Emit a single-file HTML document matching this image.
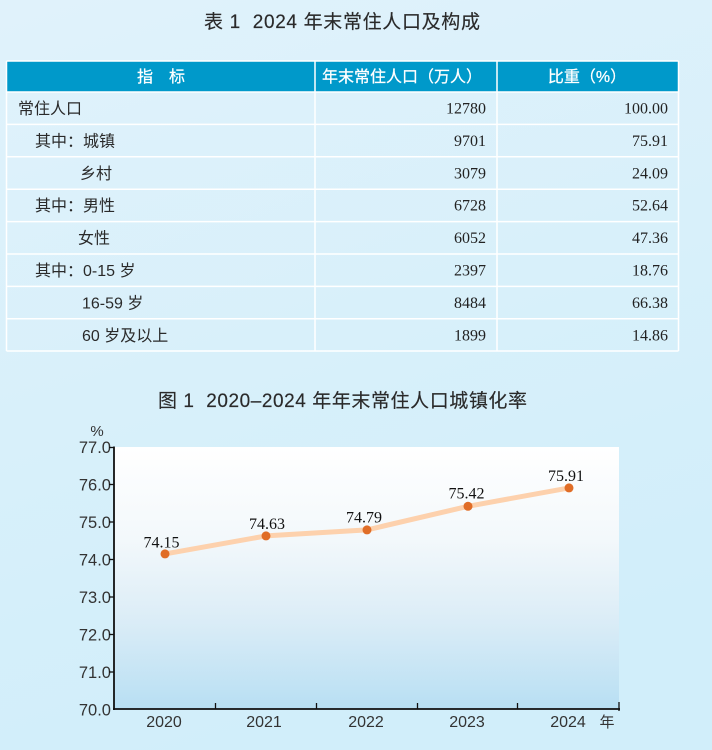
<!DOCTYPE html>
<html><head><meta charset="utf-8">
<style>
html,body{margin:0;padding:0;width:712px;height:750px;overflow:hidden;}
svg{display:block;}
.cjk{font-family:"Liberation Sans","Noto Sans CJK SC",sans-serif;}
.num{font-family:"Liberation Serif","Noto Serif CJK SC",serif;}
</style></head>
<body>
<svg width="712" height="750" viewBox="0 0 712 750" xmlns="http://www.w3.org/2000/svg">
<defs>
<linearGradient id="bg" x1="0" y1="0" x2="0.3" y2="1">
<stop offset="0" stop-color="#e0f2fb"/>
<stop offset="1" stop-color="#d1eefa"/>
</linearGradient>
<linearGradient id="plot" x1="0" y1="0" x2="0" y2="1">
<stop offset="0" stop-color="#ffffff"/>
<stop offset="0.35" stop-color="#f3f8fb"/>
<stop offset="0.65" stop-color="#dcedf7"/>
<stop offset="1" stop-color="#b8dff3"/>
</linearGradient>
</defs>
<rect x="0" y="0" width="712" height="750" fill="url(#bg)"/>

<!-- Table title -->
<text x="204" y="28" textLength="276" lengthAdjust="spacing" class="cjk" font-size="19" fill="#2a2a2a" stroke="#2a2a2a" stroke-width="0.15" xml:space="preserve">表 1  2024 年末常住人口及构成</text>

<!-- Table header -->
<rect x="6.5" y="61" width="672" height="31" fill="#0099ca"/>
<g class="cjk" font-size="16" fill="#ffffff" text-anchor="middle" stroke="#ffffff" stroke-width="0.25">
<text x="161" y="82">指　标</text>
<text x="402" y="82">年末常住人口（万人）</text>
<text x="587" y="82">比重（%）</text>
</g>

<!-- grid lines -->
<g stroke="#ffffff" stroke-width="1.5" fill="none">
<line x1="6.5" y1="61" x2="678.5" y2="61"/>
<line x1="6.5" y1="92" x2="678.5" y2="92"/>
<line x1="6.5" y1="124.4" x2="678.5" y2="124.4"/>
<line x1="6.5" y1="156.8" x2="678.5" y2="156.8"/>
<line x1="6.5" y1="189.2" x2="678.5" y2="189.2"/>
<line x1="6.5" y1="221.6" x2="678.5" y2="221.6"/>
<line x1="6.5" y1="254" x2="678.5" y2="254"/>
<line x1="6.5" y1="286.4" x2="678.5" y2="286.4"/>
<line x1="6.5" y1="318.8" x2="678.5" y2="318.8"/>
<line x1="6.5" y1="351" x2="678.5" y2="351"/>
<line x1="6.5" y1="61" x2="6.5" y2="351"/>
<line x1="315" y1="61" x2="315" y2="351"/>
<line x1="497" y1="61" x2="497" y2="351"/>
<line x1="678.5" y1="61" x2="678.5" y2="351"/>
</g>

<!-- Table body labels -->
<g class="cjk" font-size="16" fill="#2a2a2a">
<text x="18" y="114">常住人口</text>
<text x="35" y="146.4">其中：城镇</text>
<text x="80" y="178.8">乡村</text>
<text x="35" y="211.2">其中：男性</text>
<text x="78" y="243.6">女性</text>
<text x="35" y="276">其中：0-15 岁</text>
<text x="82" y="308.4">16-59 岁</text>
<text x="82" y="340.8">60 岁及以上</text>
</g>
<g class="num" font-size="16" fill="#222" text-anchor="end">
<text x="486" y="113.5">12780</text>
<text x="486" y="145.9">9701</text>
<text x="486" y="178.3">3079</text>
<text x="486" y="210.7">6728</text>
<text x="486" y="243.1">6052</text>
<text x="486" y="275.5">2397</text>
<text x="486" y="307.9">8484</text>
<text x="486" y="340.3">1899</text>
<text x="668" y="113.5">100.00</text>
<text x="668" y="145.9">75.91</text>
<text x="668" y="178.3">24.09</text>
<text x="668" y="210.7">52.64</text>
<text x="668" y="243.1">47.36</text>
<text x="668" y="275.5">18.76</text>
<text x="668" y="307.9">66.38</text>
<text x="668" y="340.3">14.86</text>
</g>

<!-- Chart title -->
<text x="158" y="407" textLength="369" lengthAdjust="spacing" class="cjk" font-size="19" fill="#2a2a2a" stroke="#2a2a2a" stroke-width="0.15" xml:space="preserve">图 1  2020–2024 年年末常住人口城镇化率</text>

<!-- plot area -->
<rect x="114" y="447" width="505" height="262" fill="url(#plot)"/>

<text x="97" y="436" text-anchor="middle" class="cjk" font-size="15" fill="#333">%</text>

<!-- y labels -->
<g font-family="Liberation Sans, sans-serif" font-size="16.5" fill="#333" text-anchor="end">
<text x="111" y="453">77.0</text>
<text x="111" y="490.5">76.0</text>
<text x="111" y="528">75.0</text>
<text x="111" y="565.5">74.0</text>
<text x="111" y="603">73.0</text>
<text x="111" y="640.5">72.0</text>
<text x="111" y="678">71.0</text>
<text x="111" y="715.5">70.0</text>
</g>

<!-- axes -->
<g stroke="#111" fill="none">
<line x1="114" y1="446.5" x2="114" y2="710" stroke-width="1.8"/>
<line x1="113" y1="709" x2="620" y2="709" stroke-width="1.8"/>
<g stroke-width="1.3">
<line x1="109" y1="447.5" x2="114" y2="447.5"/>
<line x1="109" y1="484.5" x2="114" y2="484.5"/>
<line x1="109" y1="522" x2="114" y2="522"/>
<line x1="109" y1="559.5" x2="114" y2="559.5"/>
<line x1="109" y1="597" x2="114" y2="597"/>
<line x1="109" y1="634.5" x2="114" y2="634.5"/>
<line x1="109" y1="672" x2="114" y2="672"/>
<line x1="215.5" y1="703" x2="215.5" y2="709"/>
<line x1="316.5" y1="703" x2="316.5" y2="709"/>
<line x1="417.5" y1="703" x2="417.5" y2="709"/>
<line x1="517.5" y1="703" x2="517.5" y2="709"/>
<line x1="619" y1="702" x2="619" y2="711"/>
</g>
</g>

<!-- x labels -->
<g font-family="Liberation Sans, sans-serif" font-size="16" fill="#333" text-anchor="middle">
<text x="164" y="727">2020</text>
<text x="264" y="727">2021</text>
<text x="366" y="727">2022</text>
<text x="467" y="727">2023</text>
<text x="568" y="727">2024</text>
</g>
<text x="607" y="727" text-anchor="middle" class="cjk" font-size="15" fill="#333">年</text>

<!-- series -->
<polyline points="165,553.9 266,535.9 367,529.9 468,506.3 569,487.9" fill="none" stroke="#fdd1ad" stroke-width="5" stroke-linejoin="round" stroke-linecap="round"/>
<g fill="#e06d27">
<circle cx="165" cy="553.9" r="4.5"/>
<circle cx="266" cy="535.9" r="4.5"/>
<circle cx="367" cy="529.9" r="4.5"/>
<circle cx="468" cy="506.3" r="4.5"/>
<circle cx="569" cy="487.9" r="4.5"/>
</g>
<g class="num" font-size="16" fill="#111" text-anchor="middle">
<text x="161.5" y="547.5">74.15</text>
<text x="267" y="529">74.63</text>
<text x="364" y="522.5">74.79</text>
<text x="466.5" y="498.5">75.42</text>
<text x="566" y="481">75.91</text>
</g>
</svg>
</body></html>
